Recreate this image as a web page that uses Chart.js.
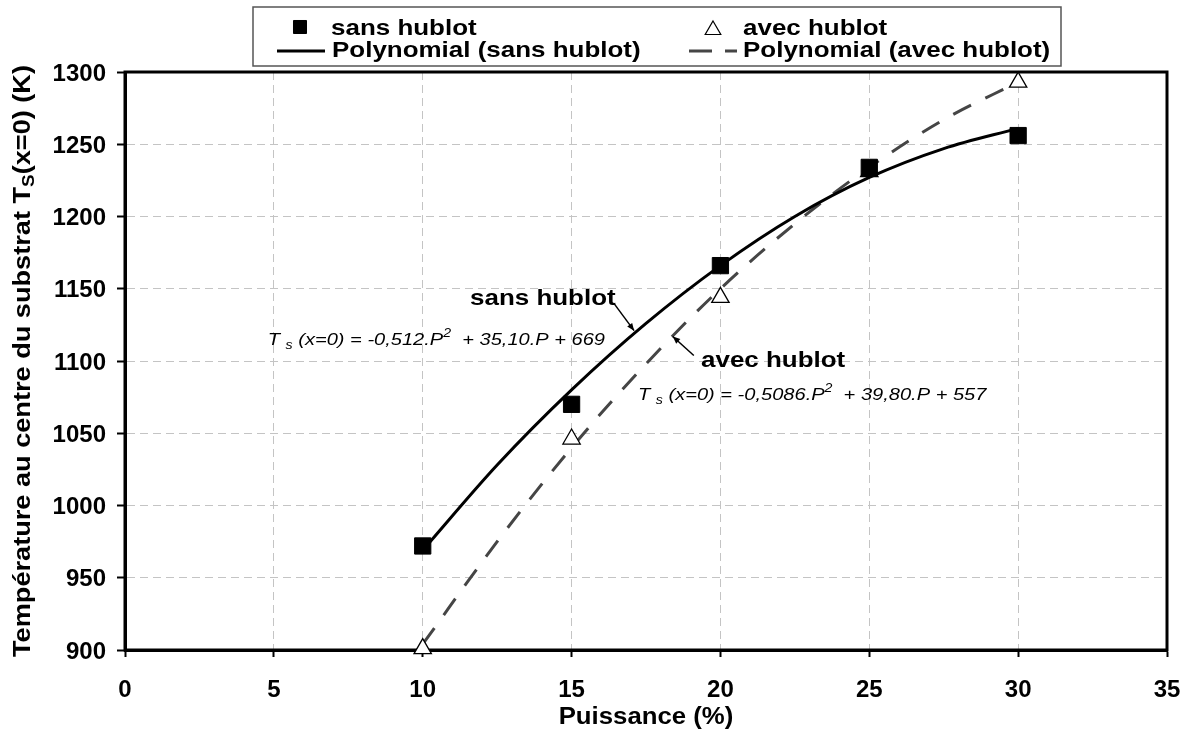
<!DOCTYPE html>
<html>
<head>
<meta charset="utf-8">
<script src="https://cdn.jsdelivr.net/npm/chart.js@4.4.0/dist/chart.umd.min.js"></script>
<style>
  html, body { margin: 0; padding: 0; background: #fff; }
  #wrap { width: 1191px; height: 737px; }
</style>
</head>
<body>
<div id="wrap"><canvas id="chart" width="1191" height="737"></canvas></div>
<script>
// measured points
const puissance = [10, 15, 20, 25, 30];
const sansHublot = [972, 1070, 1166, 1234, 1256];
const avecHublot = [901, 1046, 1144, 1231, 1293];

// trend curves
const trendP = [10, 12.5, 15, 17.5, 20, 22.5, 25, 27.5, 30];
const trendSans = [969, 1028, 1080, 1126, 1166, 1200, 1227, 1247, 1261];
const trendAvec = [904, 975, 1040, 1098, 1150, 1195, 1234, 1267, 1293];

const xTitle = 'Puissance (%)';
const eqSans = ['T ', 's', ' (x=0) = -0,512.P', '2', '  + 35,10.P + 669'];
const eqAvec = ['T ', 's', ' (x=0) = -0,5086.P', '2', '  + 39,80.P + 557'];

const FONT = '"Liberation Sans", Arial, sans-serif';
const SX = 1.18; // the source text is a bit wider than plain Arial

function toPts(xs, ys) {
    return xs.map(function (x, i) { return { x: x, y: ys[i] }; });
}

// draw a run of text pieces [{t, font, dy}] horizontally stretched by sx
function drawRun(ctx, pieces, x, y, align, sx) {
    sx = sx || SX;
    var total = 0;
    pieces.forEach(function (p) { ctx.font = p.font; total += ctx.measureText(p.t).width * sx; });
    var cx = x;
    if (align === 'right') cx = x - total;
    else if (align === 'center') cx = x - total / 2;
    pieces.forEach(function (p) {
        ctx.font = p.font;
        ctx.save();
        ctx.translate(cx, y + (p.dy || 0));
        ctx.scale(sx, 1);
        ctx.fillText(p.t, 0, 0);
        ctx.restore();
        cx += ctx.measureText(p.t).width * sx;
    });
    return total;
}

function bold(t, size) { return [{ t: t, font: 'bold ' + (size || 22) + 'px ' + FONT }]; }

function eqPieces(parts) {
    var it = 'italic 17px ' + FONT, sm = 'italic 12px ' + FONT;
    return [
        { t: parts[0], font: it }, { t: parts[1], font: sm, dy: 4 },
        { t: parts[2], font: it }, { t: parts[3], font: sm, dy: -8 },
        { t: parts[4], font: it }
    ];
}

function arrow(ctx, x1, y1, x2, y2) {
    ctx.save();
    ctx.strokeStyle = '#000';
    ctx.fillStyle = '#000';
    ctx.lineWidth = 1.5;
    ctx.beginPath(); ctx.moveTo(x1, y1); ctx.lineTo(x2, y2); ctx.stroke();
    var a = Math.atan2(y2 - y1, x2 - x1);
    ctx.beginPath();
    ctx.moveTo(x2, y2);
    ctx.lineTo(x2 - 8 * Math.cos(a - 0.4), y2 - 8 * Math.sin(a - 0.4));
    ctx.lineTo(x2 - 8 * Math.cos(a + 0.4), y2 - 8 * Math.sin(a + 0.4));
    ctx.closePath();
    ctx.fill();
    ctx.restore();
}

const decor = {
    id: 'decor',
    beforeDraw: function (chart) {
        var ctx = chart.ctx;
        ctx.save();
        ctx.fillStyle = '#fff';
        ctx.fillRect(0, 0, chart.width, chart.height);
        ctx.restore();
    },
    beforeDatasetsDraw: function (chart) {
        var ctx = chart.ctx, a = chart.chartArea;
        ctx.save();
        ctx.strokeStyle = '#000';
        ctx.lineWidth = 3;
        ctx.strokeRect(a.left, a.top, a.right - a.left, a.bottom - a.top);
        ctx.restore();
    },
    afterDraw: function (chart) {
        var ctx = chart.ctx, xs = chart.scales.x, ys = chart.scales.y, a = chart.chartArea;
        var ds = chart.data.datasets;
        ctx.save();
        ctx.fillStyle = '#000';
        ctx.textBaseline = 'alphabetic';

        // tick labels
        ys.ticks.forEach(function (t) {
            drawRun(ctx, bold(String(t.value), 24), a.left - 19, ys.getPixelForValue(t.value) + 8.5, 'right', 1.0);
        });
        xs.ticks.forEach(function (t) {
            drawRun(ctx, bold(String(t.value), 24), xs.getPixelForValue(t.value), a.bottom + 47, 'center', 1.0);
        });

        // axis titles
        drawRun(ctx, bold(xTitle, 23), (a.left + a.right) / 2, a.bottom + 74, 'center', 1.12);
        ctx.save();
        ctx.translate(30, (a.top + a.bottom) / 2);
        ctx.rotate(-Math.PI / 2);
        drawRun(ctx, [
            { t: 'Température au centre du substrat T', font: 'bold 23px ' + FONT },
            { t: 'S', font: 'bold 16px ' + FONT, dy: 4 },
            { t: '(x=0) (K)', font: 'bold 23px ' + FONT }
        ], 0, 0, 'center');
        ctx.restore();

        // annotations
        var t1x = xs.getPixelForValue(17.1), t1y = ys.getPixelForValue(1121);
        arrow(ctx, t1x - 20, t1y - 27, t1x, t1y);
        drawRun(ctx, bold('sans hublot'), 470, 305, 'left');
        drawRun(ctx, eqPieces(eqSans), 605, 345, 'right');

        var t2x = xs.getPixelForValue(18.4), t2y = ys.getPixelForValue(1117);
        arrow(ctx, t2x + 21, t2y + 19, t2x, t2y);
        drawRun(ctx, bold('avec hublot'), 701, 367, 'left');
        drawRun(ctx, eqPieces(eqAvec), 638, 400, 'left');

        // legend
        ctx.fillStyle = '#fff';
        ctx.fillRect(253, 7, 808, 59);
        ctx.strokeStyle = '#555';
        ctx.lineWidth = 1.5;
        ctx.strokeRect(253, 7, 808, 59);

        ctx.fillStyle = ds[0].backgroundColor;
        ctx.strokeStyle = ds[0].borderColor;
        ctx.lineWidth = 1;
        Chart.helpers.drawPoint(ctx, { pointStyle: 'rect', radius: 9.2, borderWidth: 1, rotation: 0 }, 300, 27);
        ctx.fillStyle = ds[1].backgroundColor;
        ctx.strokeStyle = ds[1].borderColor;
        ctx.lineWidth = 1.2;
        Chart.helpers.drawPoint(ctx, { pointStyle: 'triangle', radius: 9, borderWidth: 1.2, rotation: 0 }, 713, 30);

        ctx.lineWidth = 3;
        ctx.strokeStyle = ds[2].borderColor;
        ctx.beginPath(); ctx.moveTo(277, 51); ctx.lineTo(325, 51); ctx.stroke();
        ctx.strokeStyle = ds[3].borderColor;
        ctx.beginPath(); ctx.moveTo(689, 51); ctx.lineTo(712, 51); ctx.moveTo(725, 51); ctx.lineTo(737, 51); ctx.stroke();

        ctx.fillStyle = '#000';
        drawRun(ctx, bold(ds[0].label), 331, 35, 'left');
        drawRun(ctx, bold(ds[1].label), 743, 35, 'left');
        drawRun(ctx, bold(ds[2].label), 332, 57, 'left');
        drawRun(ctx, bold(ds[3].label), 743, 57, 'left');
        ctx.restore();
    }
};

new Chart(document.getElementById('chart'), {
    type: 'scatter',
    data: {
        datasets: [
            {
                label: 'sans hublot',
                data: toPts(puissance, sansHublot),
                pointStyle: 'rect',
                pointRadius: 11.5,
                pointHoverRadius: 11.5,
                backgroundColor: '#000',
                borderColor: '#000',
                borderWidth: 1,
                clip: false
            },
            {
                label: 'avec hublot',
                data: toPts(puissance, avecHublot),
                pointStyle: 'triangle',
                pointRadius: 10,
                pointHoverRadius: 10,
                backgroundColor: '#fff',
                borderColor: '#000',
                borderWidth: 1.3,
                clip: false
            },
            {
                label: 'Polynomial (sans hublot)',
                data: toPts(trendP, trendSans),
                showLine: true,
                pointRadius: 0,
                borderColor: '#000',
                backgroundColor: '#000',
                borderWidth: 3,
                cubicInterpolationMode: 'monotone',
                clip: false
            },
            {
                label: 'Polynomial (avec hublot)',
                data: toPts(trendP, trendAvec),
                showLine: true,
                pointRadius: 0,
                borderColor: '#454545',
                backgroundColor: '#454545',
                borderWidth: 3,
                borderDash: [20, 16],
                cubicInterpolationMode: 'monotone',
                clip: false
            }
        ]
    },
    options: {
        responsive: false,
        animation: false,
        devicePixelRatio: 1,
        layout: { padding: { top: 72, right: 24, bottom: 0, left: 0 } },
        plugins: { legend: { display: false }, tooltip: { enabled: false } },
        scales: {
            x: {
                type: 'linear',
                min: 0, max: 35,
                ticks: { stepSize: 5, display: false },
                grid: { color: '#c4c4c4', lineWidth: 1, tickLength: 7, tickColor: '#000', tickWidth: 2 },
                border: { display: true, color: '#000', width: 3, dash: [8, 5] },
                afterFit: function (s) { s.height = 87; }
            },
            y: {
                type: 'linear',
                min: 900, max: 1300,
                ticks: { stepSize: 50, display: false },
                grid: { color: '#c4c4c4', lineWidth: 1, tickLength: 8, tickColor: '#000', tickWidth: 2 },
                border: { display: true, color: '#000', width: 3, dash: [8, 5] },
                afterFit: function (s) { s.width = 125; }
            }
        }
    },
    plugins: [decor]
});
</script>
</body>
</html>
